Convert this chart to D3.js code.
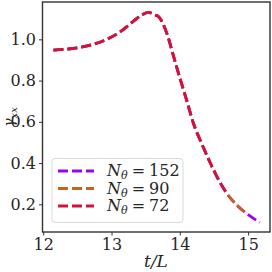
<!DOCTYPE html>
<html>
<head>
<meta charset="utf-8">
<script src="https://cdn.jsdelivr.net/npm/d3@7"></script>
<style>
  body { margin: 0; background: #fff; }
</style>
</head>
<body>
<div id="chart"></div>
<script>
// t/L sample points (shared by all runs)
const tValues = [12.15, 12.44, 12.69, 12.93, 13.13, 13.27, 13.42, 13.54, 13.64, 13.69,
  13.81, 13.91, 14.01, 14.10, 14.20, 14.32, 14.45, 14.57, 14.69, 14.84, 14.98, 15.17];
// gamma_xx for each resolution
const gamma152 = [0.948, 0.956, 0.972, 1.000, 1.037, 1.074, 1.113, 1.131, 1.118, 1.110,
  1.029, 0.916, 0.802, 0.705, 0.592, 0.495, 0.398, 0.317, 0.252, 0.195, 0.155, 0.112];
const gamma90 = [0.948, 0.956, 0.972, 1.000, 1.037, 1.074, 1.113, 1.131, 1.118, 1.110,
  1.029, 0.916, 0.802, 0.705, 0.592, 0.495, 0.398, 0.317, 0.252, 0.195, 0.155];
const gamma72 = [0.948, 0.956, 0.972, 1.000, 1.037, 1.074, 1.113, 1.131, 1.118, 1.110,
  1.029, 0.916, 0.802, 0.705, 0.592, 0.495, 0.398, 0.317, 0.252];
const seriesNames = ['152', '90', '72'];
const seriesColors = ['#a000f0', '#c8621e', '#d4103e'];
const xTicks = [12, 13, 14, 15];
const yTicks = [0.2, 0.4, 0.6, 0.8, 1.0];

const FONT = 'DejaVu Serif';
const W = 272, H = 272;
const margin = { top: 2, right: 2, bottom: 40, left: 42.5 };

const svg = d3.select('#chart').append('svg')
    .attr('width', W).attr('height', H);

const x = d3.scaleLinear().domain([11.99, 15.32]).range([margin.left, W - margin.right]);
const y = d3.scaleLinear().domain([0.066, 1.181]).range([H - margin.bottom, margin.top]);

const series = [gamma152, gamma90, gamma72].map((g, i) => ({
    name: seriesNames[i],
    color: seriesColors[i],
    pts: g.map((v, j) => [tValues[j], v])
}));

const line = d3.line()
    .x(d => x(d[0]))
    .y(d => y(d[1]))
    .curve(d3.curveMonotoneX);

svg.selectAll('.run')
    .data(series)
    .enter().append('path')
    .attr('class', 'run')
    .attr('d', d => line(d.pts))
    .attr('fill', 'none')
    .attr('stroke', d => d.color)
    .attr('stroke-width', 2.8)
    .attr('stroke-dasharray', '10,4');

// axes
const xAxis = svg.append('g')
    .attr('transform', 'translate(0,' + (H - margin.bottom) + ')')
    .call(d3.axisBottom(x).tickValues(xTicks).tickFormat(d3.format('d')).tickSize(3.5).tickPadding(3));
const yAxis = svg.append('g')
    .attr('transform', 'translate(' + margin.left + ',0)')
    .call(d3.axisLeft(y).tickValues(yTicks).tickFormat(d3.format('.1f')).tickSize(3.5).tickPadding(3));

[xAxis, yAxis].forEach(a => {
    a.attr('font-family', FONT).attr('font-size', 16);
    a.select('.domain').remove();
    a.selectAll('line').attr('stroke', '#333').attr('stroke-width', 1);
    a.selectAll('text').attr('fill', '#262626');
});

// frame
svg.append('rect')
    .attr('x', margin.left).attr('y', margin.top)
    .attr('width', W - margin.left - margin.right)
    .attr('height', H - margin.top - margin.bottom)
    .attr('fill', 'none').attr('stroke', '#333').attr('stroke-width', 1.4);

// axis labels
svg.append('text')
    .attr('x', 156).attr('y', 267)
    .attr('text-anchor', 'middle')
    .attr('font-family', FONT)
    .attr('font-size', 17).attr('font-style', 'italic')
    .attr('fill', '#262626')
    .text('t/L');

const yl = svg.append('text')
    .attr('transform', 'translate(14,117) rotate(-90)')
    .attr('text-anchor', 'middle')
    .attr('font-family', FONT)
    .attr('fill', '#262626')
    .attr('font-size', 14).attr('font-style', 'italic');
yl.append('tspan').text('γ');
yl.append('tspan').attr('dy', 2.5).attr('font-size', 10).text('xx');

// legend
const leg = svg.append('g');
leg.append('rect')
    .attr('x', 52).attr('y', 158.5).attr('width', 131).attr('height', 64)
    .attr('rx', 3)
    .attr('fill', '#fff').attr('fill-opacity', 0.8)
    .attr('stroke', '#d9d9d9').attr('stroke-width', 1);

series.forEach((s, i) => {
    const yy = 171 + i * 17.5;
    leg.append('line')
        .attr('x1', 58).attr('x2', 94).attr('y1', yy).attr('y2', yy)
        .attr('stroke', s.color).attr('stroke-width', 2.8)
        .attr('stroke-dasharray', '10,4');
    const t = leg.append('text')
        .attr('x', 107).attr('y', yy + 5)
        .attr('font-family', FONT)
        .attr('fill', '#262626')
        .attr('font-size', 16);
    t.append('tspan').attr('font-style', 'italic').text('N');
    t.append('tspan').attr('dy', 3).attr('font-size', 11).attr('font-style', 'italic').text('θ');
    t.append('tspan').attr('dy', -3).attr('dx', 4).text('=');
    t.append('tspan').attr('dx', 4).text(s.name);
});
</script>
</body>
</html>
